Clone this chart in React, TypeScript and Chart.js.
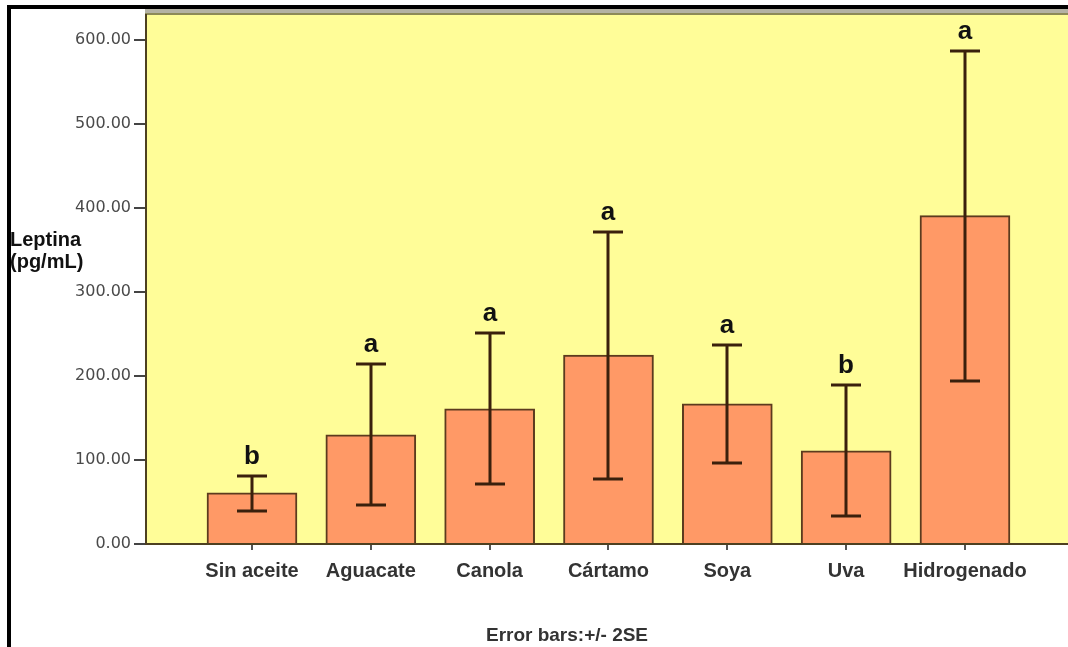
import React, { useEffect, useRef } from "react";
import { Chart, registerables } from "chart.js";

Chart.register(...registerables);

const categories = ["Sin aceite", "Aguacate", "Canola", "Cártamo", "Soya", "Uva", "Hidrogenado"];
const means = [61, 130, 161, 225, 167, 111, 391];
const upperErr = [81, 214, 251, 372, 237, 189, 587];
const lowerErr = [39, 46, 71, 77, 96, 33, 194];
const groupLetters = ["b", "a", "a", "a", "a", "b", "a"];
const yTicks = [0, 100, 200, 300, 400, 500, 600];
const yTitle = ["Leptina", "(pg/mL)"];
const footnote = "Error bars:+/- 2SE";

const W = 1068;
const H = 647;

const framePlugin = {
  id: "frame",
  beforeDraw(chart: any) {
    const { ctx, chartArea } = chart;
    ctx.save();
    ctx.fillStyle = "#ffffff";
    ctx.fillRect(0, 0, W, H);
    ctx.fillStyle = "#fffd98";
    ctx.fillRect(chartArea.left, chartArea.top, chartArea.right - chartArea.left, chartArea.bottom - chartArea.top);
    ctx.fillStyle = "#b4b2a4";
    ctx.fillRect(chartArea.left - 1, 9, W, 4);
    ctx.fillStyle = "#8d8a58";
    ctx.fillRect(chartArea.left - 1, 13, W, 2);
    ctx.fillStyle = "#000000";
    ctx.fillRect(7, 5, W, 4);
    ctx.fillRect(7, 5, 4, H);
    ctx.restore();
  },
};

const annotPlugin = {
  id: "annot",
  afterDatasetsDraw(chart: any) {
    const { ctx } = chart;
    const xs = chart.scales.x;
    const ys = chart.scales.y;
    ctx.save();
    ctx.strokeStyle = "#3a200c";
    ctx.lineWidth = 3;
    for (let i = 0; i < categories.length; i++) {
      const x = Math.round(xs.getPixelForValue(i));
      const yt = Math.round(ys.getPixelForValue(upperErr[i]));
      const yb = Math.round(ys.getPixelForValue(lowerErr[i]));
      ctx.beginPath();
      ctx.moveTo(x, yt);
      ctx.lineTo(x, yb);
      ctx.moveTo(x - 15, yt);
      ctx.lineTo(x + 15, yt);
      ctx.moveTo(x - 15, yb);
      ctx.lineTo(x + 15, yb);
      ctx.stroke();
      ctx.fillStyle = "#111111";
      ctx.font = "bold 26px 'Liberation Sans', Arial, sans-serif";
      ctx.textAlign = "center";
      ctx.textBaseline = "alphabetic";
      ctx.fillText(groupLetters[i], x, yt - 12);
    }
    ctx.restore();
  },
  afterDraw(chart: any) {
    const { ctx } = chart;
    ctx.save();
    ctx.fillStyle = "#111111";
    ctx.font = "bold 20px 'Liberation Sans', Arial, sans-serif";
    ctx.textAlign = "left";
    ctx.textBaseline = "alphabetic";
    ctx.fillText(yTitle[0], 10, 246);
    ctx.fillText(yTitle[1], 10, 268);
    ctx.fillStyle = "#333333";
    ctx.font = "bold 19px 'Liberation Sans', Arial, sans-serif";
    ctx.textAlign = "center";
    ctx.fillText(footnote, 567, 641);
    ctx.restore();
  },
};

export default function App() {
  const ref = useRef<HTMLCanvasElement | null>(null);
  useEffect(() => {
    if (!ref.current) return;
    const chart = new Chart(ref.current, {
      type: "bar",
      data: {
        datasets: [
          {
            data: means.map((v, i) => ({ x: i, y: v })),
            backgroundColor: "#ff9966",
            borderColor: "#5c3b1e",
            borderWidth: 2,
            barThickness: 90,
          } as any,
        ],
      },
      options: {
        animation: false,
        responsive: false,
        layout: { padding: { top: 15, left: 0, right: 0, bottom: 0 } },
        plugins: { legend: { display: false }, tooltip: { enabled: false } },
        scales: {
          x: {
            type: "linear",
            offset: false,
            min: -0.892,
            max: 6.867,
            afterBuildTicks: (s: any) => {
              s.ticks = categories.map((_, i) => ({ value: i }));
            },
            afterFit: (s: any) => {
              s.height = 103;
            },
            ticks: {
              autoSkip: false,
              maxRotation: 0,
              padding: 9,
              color: "#333333",
              font: { family: "'Liberation Sans', Arial, sans-serif", size: 20, weight: "bold" },
              callback: (v: any) => categories[v] ?? "",
            },
            grid: { display: true, offset: false, drawOnChartArea: false, drawTicks: true, tickLength: 6, color: "#555555", lineWidth: 2 },
            border: { display: true, color: "#4d4020", width: 2 },
          },
          y: {
            type: "linear",
            min: 0,
            max: 630,
            afterBuildTicks: (s: any) => {
              s.ticks = yTicks.map((v) => ({ value: v }));
            },
            afterFit: (s: any) => {
              s.width = 146;
            },
            ticks: {
              padding: 3,
              color: "#4a4a4a",
              font: { family: "'DejaVu Sans', sans-serif", size: 16 },
              callback: (v: any) => Number(v).toFixed(2),
            },
            grid: { display: true, drawOnChartArea: false, drawTicks: true, tickLength: 12, color: "#444444", lineWidth: 2 },
            border: { display: true, color: "#4d4020", width: 2 },
          },
        },
      } as any,
      plugins: [framePlugin, annotPlugin],
    });
    return () => chart.destroy();
  }, []);
  return (
    <div style={{ position: "absolute", left: 0, top: 0, width: W, height: H, overflow: "hidden" }}>
      <canvas ref={ref} width={W} height={H} style={{ display: "block" }} />
    </div>
  );
}
